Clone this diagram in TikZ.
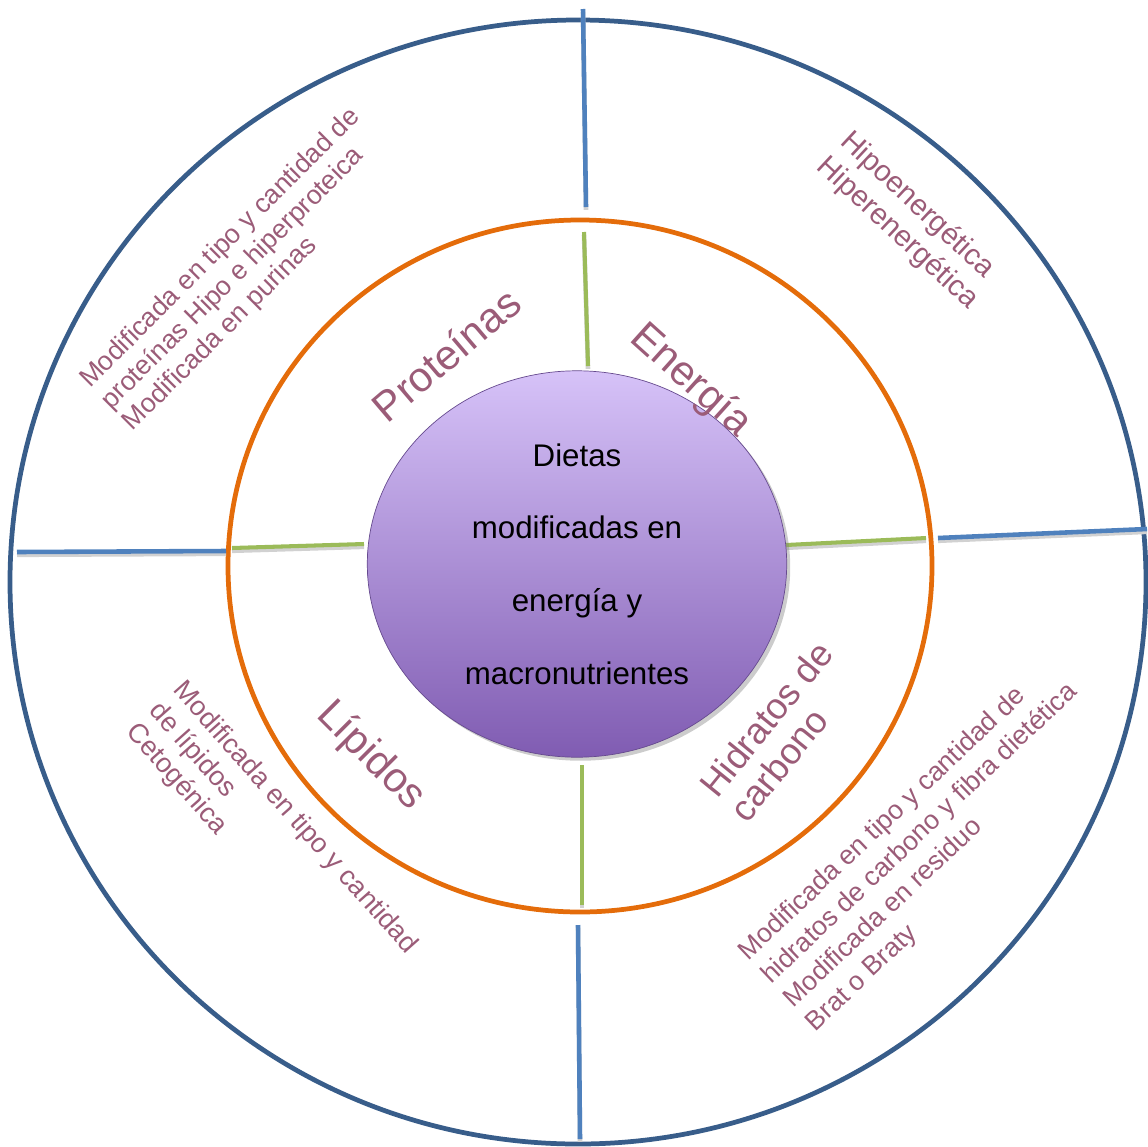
\documentclass[tikz,border=0pt]{standalone}
\usepackage{fontspec}
\setmainfont{Liberation Sans}
\usetikzlibrary{shapes.geometric,shadows}

\definecolor{ringblue}{RGB}{56,93,138}
\definecolor{spokeblue}{RGB}{79,129,189}
\definecolor{ringorange}{RGB}{228,108,10}
\definecolor{spokegreen}{RGB}{155,187,89}
\definecolor{labelmauve}{RGB}{155,92,120}
\definecolor{hubtop}{RGB}{214,194,248}
\definecolor{hubmid}{RGB}{176,150,222}
\definecolor{hubbot}{RGB}{128,92,178}

\tikzset{
  ring/.style={line width=2.7pt},
  spoke/.style={line width=2.6pt,
    preaction={draw=black!18, line width=2.6pt, transform canvas={yshift=-1.6pt}}},
  hub/.style={ellipse, draw=hubbot!80!black, line width=.4pt,
    top color=hubtop, middle color=hubmid, bottom color=hubbot,
    minimum width=8.39cm, minimum height=7.73cm, inner sep=0pt,
    drop shadow={shadow xshift=2pt, shadow yshift=-2pt, opacity=.4},
    align=center, font=\fontsize{17.8pt}{41.4pt}\selectfont},
  macro/.style={text=labelmauve, inner sep=0pt, anchor=base,
    font=\fontsize{23.8pt}{26pt}\selectfont},
  detail/.style={text=labelmauve, inner sep=0pt, align=left,
    font=\fontsize{15.2pt}{17.2pt}\selectfont}
}

\begin{document}
\begin{tikzpicture}[x=0.02cm,y=-0.02cm]
  \useasboundingbox (0,0) rectangle (1148,1146);

  \draw[ring,ringblue] (578,582) ellipse [x radius=568, y radius=562];
  \draw[ring,ringorange] (580,566) ellipse [x radius=352, y radius=346];

  \coordinate (bnA) at (583,9);    \coordinate (bnB) at (586,207);
  \coordinate (beA) at (938,538);  \coordinate (beB) at (1147,529);
  \coordinate (bsA) at (578,925);  \coordinate (bsB) at (580,1139);
  \coordinate (bwA) at (17,552);   \coordinate (bwB) at (226,551);
  \coordinate (gnA) at (584,232);  \coordinate (gnB) at (588,366);
  \coordinate (geA) at (786,545);  \coordinate (geB) at (926,538);
  \coordinate (gsA) at (582,765);  \coordinate (gsB) at (582,905);
  \coordinate (gwA) at (232,548);  \coordinate (gwB) at (364,544);

  \draw[spoke,spokeblue] (bnA) -- (bnB);
  \draw[spoke,spokeblue] (beA) -- (beB);
  \draw[spoke,spokeblue] (bsA) -- (bsB);
  \draw[spoke,spokeblue] (bwA) -- (bwB);
  \draw[spoke,spokegreen,line width=2.3pt] (gnA) -- (gnB);
  \draw[spoke,spokegreen,line width=2.3pt] (geA) -- (geB);
  \draw[spoke,spokegreen,line width=2.3pt] (gsA) -- (gsB);
  \draw[spoke,spokegreen,line width=2.3pt] (gwA) -- (gwB);

  \node[hub] (hub) at (577,564) {Dietas\\modificadas en\\energía y\\macronutrientes};

  \node[macro, rotate=40.4] (proteinas) at (456,366) {Proteínas};
  \node[macro, rotate=-42] (energia) at (683,389) {Energía};
  \node[macro, rotate=-45] (lipidos) at (363,764) {Lípidos};
  \node[macro, rotate=51, anchor=center, align=left,
    font=\fontsize{20.8pt}{22pt}\selectfont] (hidratos) at (781,731) {Hidratos de\\carbono};

  \node[detail, rotate=45] (protdet) at (242,270)
    {Modificada en tipo y cantidad de\\proteínas Hipo e hiperproteica\\Modificada en purinas};
  \node[detail, rotate=-43, font=\fontsize{16.8pt}{19.3pt}\selectfont] (energdet) at (909,221)
    {Hipoenergética\\Hiperenergética};
  \node[detail, rotate=-48.4, font=\fontsize{15.5pt}{17.9pt}\selectfont] (lipdet) at (271,839)
    {Modificada en tipo y cantidad\\de lípidos\\Cetogénica};
  \node[detail, rotate=43.5, font=\fontsize{15.2pt}{18.5pt}\selectfont] (hcdet) at (931,846)
    {Modificada en tipo y cantidad de\\hidratos de carbono y fibra dietética\\Modificada en residuo\\Brat o Braty};
\end{tikzpicture}
\end{document}
